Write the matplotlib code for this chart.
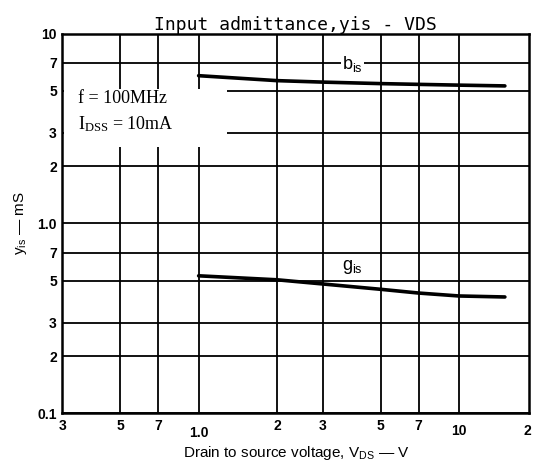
import numpy as np
import matplotlib
matplotlib.use('Agg')
import matplotlib.pyplot as plt
import matplotlib.transforms as mtransforms
from matplotlib.patches import Rectangle

# data
vds = [1.0, 2.0, 3.0, 5.0, 7.0, 10.0, 15.0]
b_is = [6.0, 5.65, 5.55, 5.45, 5.4, 5.35, 5.3]
g_is = [0.53, 0.505, 0.48, 0.45, 0.43, 0.415, 0.41]

x_ticks = [0.3, 0.5, 0.7, 1.0, 2, 3, 5, 7, 10]
x_labels = ['3', '5', '7', '1.0', '2', '3', '5', '7', '10']
y_ticks = [0.1, 0.2, 0.3, 0.5, 0.7, 1.0, 2, 3, 5, 7, 10]
y_labels = ['0.1', '2', '3', '5', '7', '1.0', '2', '3', '5', '7', '10']

plt.rcParams['mathtext.fontset'] = 'custom'
plt.rcParams['mathtext.rm'] = 'Liberation Sans'

fig = plt.figure(figsize=(5.34, 4.66), dpi=100)
ax = fig.add_axes([0.117, 0.113, 0.874, 0.815])
ax.set_xscale('log')
ax.set_yscale('log')
ax.set_xlim(0.3, 18.6)
ax.set_ylim(0.1, 10)

# curves
ax.plot(vds, b_is, color='black', lw=2.6, solid_capstyle='round', zorder=2)
ax.plot(vds, g_is, color='black', lw=2.6, solid_capstyle='round', zorder=2)

# grid
ax.set_xticks(x_ticks)
ax.set_xticklabels(x_labels)
ax.set_yticks(y_ticks)
ax.set_yticklabels(y_labels)
ax.minorticks_off()
ax.grid(True, which='major', color='black', lw=1.3)
ax.tick_params(length=0, pad=4)
for lab in ax.get_xticklabels() + ax.get_yticklabels():
    lab.set_fontfamily('Liberation Sans')
    lab.set_fontweight('bold')
    lab.set_fontsize(10)
for sp in ax.spines.values():
    sp.set_linewidth(1.8)

# some x labels sit a bit lower in the scan
ticks = ax.xaxis.get_major_ticks()
ticks[3].set_pad(9)
ticks[8].set_pad(8)

# right edge "2" (the 20 got cut off)
trans = mtransforms.blended_transform_factory(ax.transData, ax.transAxes)
ax.text(18.3, -0.027, '2', transform=trans, ha='center', va='top',
        fontfamily='Liberation Sans', fontweight='bold', fontsize=10)

# labels
ax.set_title('Input admittance,yis - VDS', fontfamily='DejaVu Sans Mono',
             fontsize=13, pad=2)
ax.set_xlabel(r'Drain to source voltage, V$\mathregular{_{DS}}$ — V',
              fontfamily='Liberation Sans', fontsize=11, labelpad=3)
ax.set_ylabel(r'y$\mathregular{_{is}}$ — mS', fontfamily='Liberation Sans',
              fontsize=11, labelpad=6)

# white patch behind the conditions text (breaks the grid like the scan)
ax.add_patch(Rectangle((0.003, 0.70), 0.35, 0.155, transform=ax.transAxes,
                       facecolor='white', edgecolor='none', zorder=2.5))
ax.text(0.345, 3.85, 'f = 100MHz\nI$\\mathregular{_{DSS}}$ = 10mA',
        fontfamily='Liberation Serif', fontsize=13, va='center', ha='left',
        linespacing=1.5, zorder=3)
ax.text(3.9, 6.9, r'b$\mathregular{_{is}}$', fontfamily='Liberation Sans',
        fontsize=13, ha='center', va='center',
        bbox=dict(facecolor='white', edgecolor='none', pad=1), zorder=3)
ax.text(3.9, 0.59, r'g$\mathregular{_{is}}$', fontfamily='Liberation Sans',
        fontsize=13, ha='center', va='center',
        bbox=dict(facecolor='white', edgecolor='none', pad=1), zorder=3)

plt.savefig('out.png', dpi=100)
